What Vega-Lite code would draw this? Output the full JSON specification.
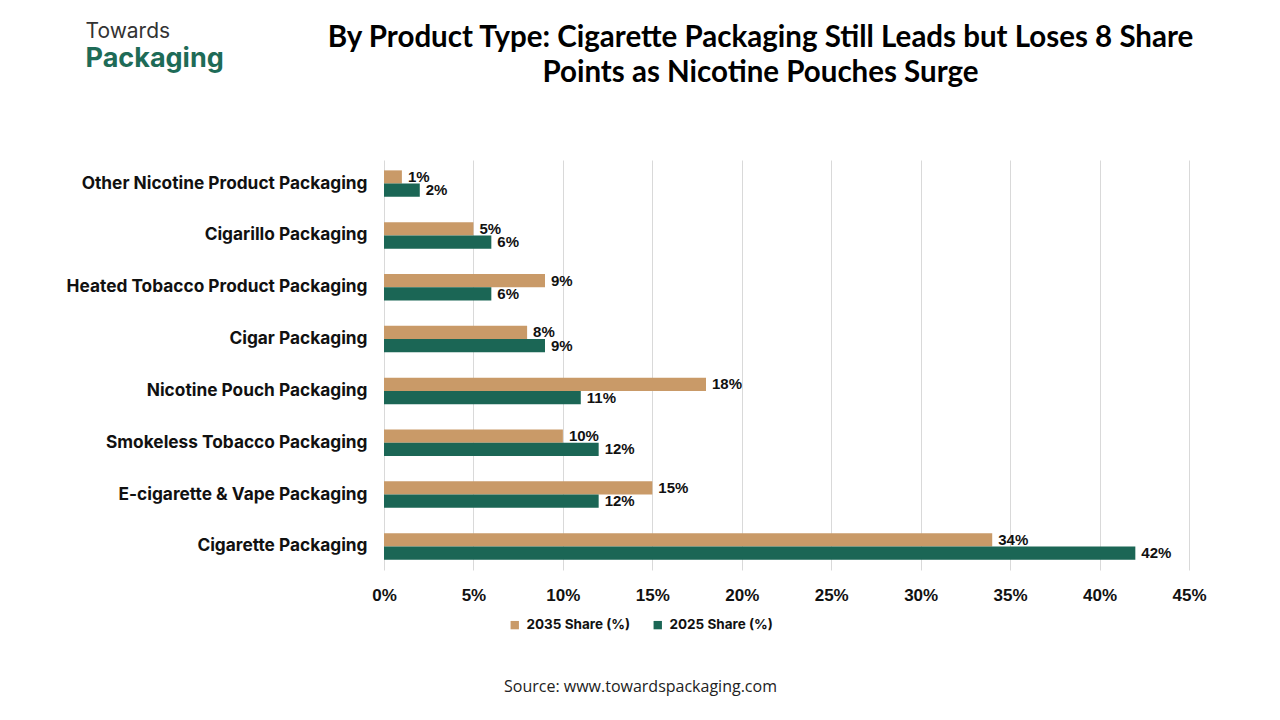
{
  "$schema": "https://vega.github.io/schema/vega-lite/v6.json",
  "width": 805,
  "height": 410,
  "autosize": "none",
  "padding": {"left": 384, "top": 160, "right": 91, "bottom": 150},
  "background": "white",
  "title": {
    "text": ["By Product Type: Cigarette Packaging Still Leads but Loses 8 Share", "Points as Nicotine Pouches Surge"],
    "anchor": "middle",
    "frame": "group",
    "dx": -26,
    "offset": 0,
    "dy": 68,
    "font": "Lato",
    "fontSize": 29.5,
    "fontWeight": "bold",
    "lineHeight": 35,
    "color": "#000000"
  },
  "data": {
    "values": [
      {"category": "Other Nicotine Product Packaging", "series": "2035 Share (%)", "share": 0.01},
      {"category": "Other Nicotine Product Packaging", "series": "2025 Share (%)", "share": 0.02},
      {"category": "Cigarillo Packaging", "series": "2035 Share (%)", "share": 0.05},
      {"category": "Cigarillo Packaging", "series": "2025 Share (%)", "share": 0.06},
      {"category": "Heated Tobacco Product Packaging", "series": "2035 Share (%)", "share": 0.09},
      {"category": "Heated Tobacco Product Packaging", "series": "2025 Share (%)", "share": 0.06},
      {"category": "Cigar Packaging", "series": "2035 Share (%)", "share": 0.08},
      {"category": "Cigar Packaging", "series": "2025 Share (%)", "share": 0.09},
      {"category": "Nicotine Pouch Packaging", "series": "2035 Share (%)", "share": 0.18},
      {"category": "Nicotine Pouch Packaging", "series": "2025 Share (%)", "share": 0.11},
      {"category": "Smokeless Tobacco Packaging", "series": "2035 Share (%)", "share": 0.10},
      {"category": "Smokeless Tobacco Packaging", "series": "2025 Share (%)", "share": 0.12},
      {"category": "E-cigarette & Vape Packaging", "series": "2035 Share (%)", "share": 0.15},
      {"category": "E-cigarette & Vape Packaging", "series": "2025 Share (%)", "share": 0.12},
      {"category": "Cigarette Packaging", "series": "2035 Share (%)", "share": 0.34},
      {"category": "Cigarette Packaging", "series": "2025 Share (%)", "share": 0.42}
    ]
  },
  "resolve": {"axis": {"y": "independent"}},
  "layer": [
    {
      "mark": {"type": "bar"},
      "encoding": {
        "y": {
          "field": "category",
          "type": "nominal",
          "sort": ["Other Nicotine Product Packaging", "Cigarillo Packaging", "Heated Tobacco Product Packaging", "Cigar Packaging", "Nicotine Pouch Packaging", "Smokeless Tobacco Packaging", "E-cigarette & Vape Packaging", "Cigarette Packaging"],
          "scale": {"paddingInner": 0.49},
          "axis": {
            "orient": "left",
            "domain": false,
            "ticks": false,
            "grid": false,
            "labelPadding": 17,
            "labelFont": "Inter",
            "labelFontSize": 17.3,
            "labelFontWeight": "bold",
            "labelColor": "#111111",
            "labelLimit": 400,
            "title": "Packaging",
            "titleAngle": 0,
            "titleX": -299,
            "titleY": -94,
            "titleAlign": "left",
            "titleBaseline": "alphabetic",
            "titleFont": "Inter",
            "titleFontSize": 27,
            "titleFontWeight": "bold",
            "titleColor": "#1E6B57"
          }
        },
        "x": {
          "field": "share",
          "type": "quantitative",
          "scale": {"domain": [0, 0.45]},
          "axis": {
            "values": [0, 0.05, 0.1, 0.15, 0.2, 0.25, 0.3, 0.35, 0.4, 0.45],
            "format": ".0%",
            "domain": false,
            "ticks": false,
            "labelFlush": false,
            "gridColor": "#d9d9d9",
            "gridWidth": 1,
            "labelPadding": 17,
            "labelFont": "Liberation Sans",
            "labelFontSize": 17,
            "labelFontWeight": "bold",
            "labelColor": "#111111",
            "title": "Source: www.towardspackaging.com",
            "titleX": 256,
            "titleY": 116,
            "titleAlign": "center",
            "titleBaseline": "middle",
            "titleFont": "Open Sans",
            "titleFontSize": 16,
            "titleFontWeight": "normal",
            "titleColor": "#222222"
          }
        },
        "yOffset": {"field": "series", "type": "nominal", "sort": ["2035 Share (%)", "2025 Share (%)"]},
        "color": {
          "field": "series",
          "type": "nominal",
          "sort": ["2035 Share (%)", "2025 Share (%)"],
          "scale": {"domain": ["2035 Share (%)", "2025 Share (%)"], "range": ["#C99A68", "#1B6655"]},
          "legend": {
            "orient": "none",
            "legendX": 124,
            "legendY": 458,
            "direction": "horizontal",
            "title": null,
            "symbolType": "square",
            "symbolSize": 70,
            "symbolStrokeWidth": 0,
            "columnPadding": 20,
            "labelOffset": 5,
            "labelFont": "Inter",
            "labelFontSize": 13.5,
            "labelFontWeight": "bold",
            "labelColor": "#111111"
          }
        }
      }
    },
    {
      "mark": {"type": "text", "align": "left", "baseline": "middle", "dx": 6, "font": "Liberation Sans", "fontSize": 15, "fontWeight": "bold", "color": "#111111"},
      "encoding": {
        "y": {
          "field": "category",
          "type": "nominal",
          "sort": ["Other Nicotine Product Packaging", "Cigarillo Packaging", "Heated Tobacco Product Packaging", "Cigar Packaging", "Nicotine Pouch Packaging", "Smokeless Tobacco Packaging", "E-cigarette & Vape Packaging", "Cigarette Packaging"],
          "scale": {"paddingInner": 0.49},
          "axis": {
            "orient": "right",
            "domain": false,
            "ticks": false,
            "labels": false,
            "grid": false,
            "title": "Towards",
            "titleAngle": 0,
            "titleX": -1104,
            "titleY": -123,
            "titleAlign": "left",
            "titleBaseline": "alphabetic",
            "titleFont": "Inter",
            "titleFontSize": 21,
            "titleFontWeight": "normal",
            "titleColor": "#333333"
          }
        },
        "x": {"field": "share", "type": "quantitative"},
        "yOffset": {"field": "series", "type": "nominal", "sort": ["2035 Share (%)", "2025 Share (%)"]},
        "text": {"field": "share", "type": "quantitative", "format": ".0%"}
      }
    }
  ],
  "config": {"view": {"stroke": null}}
}
